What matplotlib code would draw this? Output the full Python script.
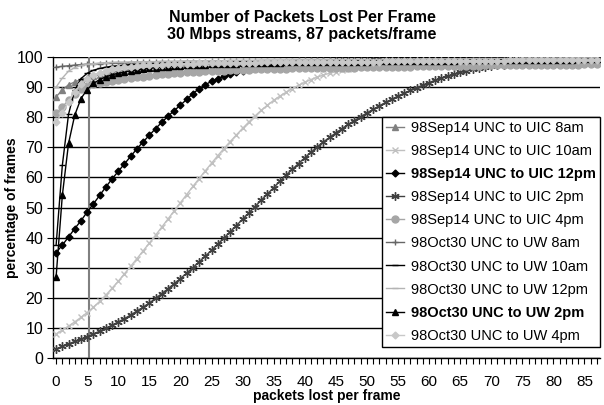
import matplotlib
matplotlib.use("Agg")
import matplotlib.pyplot as plt
from matplotlib.ticker import MultipleLocator, FixedLocator

plt.rcParams['font.family'] = ['Liberation Sans', 'DejaVu Sans']

title = "Number of Packets Lost Per Frame\n30 Mbps streams, 87 packets/frame"
x_label = "packets lost per frame"
y_label = "percentage of frames"
packets = list(range(0, 88))
x_tick_labels = list(range(0, 90, 5))
y_tick_labels = list(range(0, 110, 10))
ref_x = 5.3

sep14_8am = [86.8, 89.0, 90.8, 91.7, 92.5, 93.1, 93.6, 94.1, 94.5, 94.9,
             95.2, 95.5, 95.8, 96.0, 96.2, 96.4, 96.6, 96.8, 96.9, 97.1,
             97.2, 97.3, 97.4, 97.5, 97.6, 97.7, 97.8, 97.8, 97.9, 97.9,
             98.0, 98.0, 98.1, 98.1, 98.2, 98.2, 98.2, 98.3, 98.3, 98.3,
             98.4, 98.4, 98.4, 98.5, 98.5, 98.5, 98.5, 98.6, 98.6, 98.6,
             98.6, 98.7, 98.7, 98.7, 98.7, 98.8, 98.8, 98.8, 98.8, 98.9,
             98.9, 98.9, 98.9, 99.0, 99.0, 99.0, 99.0, 99.0, 99.1, 99.1,
             99.1, 99.1, 99.1, 99.2, 99.2, 99.2, 99.2, 99.2, 99.3, 99.3,
             99.3, 99.3, 99.3, 99.3, 99.4, 99.4, 99.4, 99.4]
sep14_10am = [8.0, 9.3, 10.6, 12.0, 13.5, 15.1, 16.9, 18.8, 20.9, 23.2,
              25.5, 28.0, 30.5, 33.0, 35.6, 38.2, 40.8, 43.5, 46.2, 48.9,
              51.6, 54.3, 57.0, 59.6, 62.2, 64.7, 67.2, 69.6, 71.9, 74.1,
              76.3, 78.4, 80.4, 82.3, 84.0, 85.6, 87.0, 88.3, 89.5, 90.6,
              91.6, 92.5, 93.3, 94.0, 94.6, 95.1, 95.6, 96.0, 96.4, 96.7,
              97.0, 97.2, 97.4, 97.6, 97.8, 97.9, 98.0, 98.1, 98.2, 98.3,
              98.3, 98.4, 98.4, 98.5, 98.5, 98.6, 98.6, 98.7, 98.7, 98.7,
              98.8, 98.8, 98.8, 98.9, 98.9, 98.9, 98.9, 99.0, 99.0, 99.0,
              99.0, 99.1, 99.1, 99.1, 99.1, 99.2, 99.2, 99.2]
sep14_12pm = [35.0, 37.5, 40.2, 43.0, 45.6, 48.5, 51.2, 54.0, 56.8, 59.5,
              62.0, 64.5, 67.0, 69.5, 71.8, 74.0, 76.2, 78.3, 80.3, 82.2,
              84.0, 85.9, 87.8, 89.5, 90.8, 91.9, 92.8, 93.6, 94.3, 94.9,
              95.4, 95.9, 96.3, 96.7, 97.0, 97.3, 97.5, 97.7, 97.9, 98.0,
              98.1, 98.2, 98.3, 98.4, 98.5, 98.6, 98.6, 98.7, 98.7, 98.8,
              98.8, 98.9, 98.9, 98.9, 99.0, 99.0, 99.0, 99.1, 99.1, 99.1,
              99.1, 99.2, 99.2, 99.2, 99.2, 99.3, 99.3, 99.3, 99.3, 99.3,
              99.4, 99.4, 99.4, 99.4, 99.4, 99.4, 99.5, 99.5, 99.5, 99.5,
              99.5, 99.5, 99.5, 99.6, 99.6, 99.6, 99.6, 99.6]
sep14_2pm = [3.0, 3.9, 4.7, 5.5, 6.3, 7.1, 8.0, 8.9, 9.9, 10.9,
             12.0, 13.1, 14.3, 15.6, 16.9, 18.3, 19.8, 21.4, 23.0, 24.7,
             26.4, 28.2, 30.0, 31.9, 33.8, 35.8, 37.8, 39.8, 41.9, 44.0,
             46.1, 48.2, 50.3, 52.4, 54.5, 56.6, 58.7, 60.7, 62.7, 64.6,
             66.5, 68.3, 70.1, 71.8, 73.3, 74.8, 76.2, 77.6, 78.9, 80.2,
             81.4, 82.6, 83.8, 84.9, 86.0, 87.0, 88.0, 88.9, 89.8, 90.7,
             91.5, 92.3, 93.0, 93.7, 94.3, 94.9, 95.4, 95.9, 96.3, 96.7,
             97.0, 97.3, 97.5, 97.7, 97.9, 98.0, 98.1, 98.2, 98.3, 98.4,
             98.5, 98.5, 98.6, 98.7, 98.7, 98.8, 98.8, 98.9]
sep14_4pm = [81.3, 83.4, 85.7, 87.8, 89.4, 90.5, 91.1, 91.4, 91.7, 92.0,
             92.3, 92.6, 92.9, 93.2, 93.5, 93.8, 94.0, 94.2, 94.4, 94.6,
             94.8, 94.9, 95.0, 95.1, 95.2, 95.3, 95.4, 95.5, 95.6, 95.7,
             95.8, 95.8, 95.9, 95.9, 96.0, 96.0, 96.1, 96.1, 96.2, 96.2,
             96.3, 96.3, 96.3, 96.4, 96.4, 96.4, 96.5, 96.5, 96.5, 96.6,
             96.6, 96.6, 96.7, 96.7, 96.7, 96.8, 96.8, 96.8, 96.9, 96.9,
             96.9, 97.0, 97.0, 97.0, 97.0, 97.1, 97.1, 97.1, 97.1, 97.2,
             97.2, 97.2, 97.2, 97.3, 97.3, 97.3, 97.3, 97.4, 97.4, 97.4,
             97.4, 97.5, 97.5, 97.5, 97.5, 97.6, 97.6, 97.6]
oct30_8am = [96.6, 96.9, 97.1, 97.3, 97.5, 97.6, 97.7, 97.8, 97.9, 98.0,
             98.0, 98.1, 98.1, 98.2, 98.2, 98.3, 98.3, 98.3, 98.4, 98.4,
             98.4, 98.5, 98.5, 98.5, 98.5, 98.6, 98.6, 98.6, 98.6, 98.7,
             98.7, 98.7, 98.7, 98.7, 98.8, 98.8, 98.8, 98.8, 98.8, 98.9,
             98.9, 98.9, 98.9, 98.9, 98.9, 99.0, 99.0, 99.0, 99.0, 99.0,
             99.0, 99.1, 99.1, 99.1, 99.1, 99.1, 99.1, 99.2, 99.2, 99.2,
             99.2, 99.2, 99.2, 99.3, 99.3, 99.3, 99.3, 99.3, 99.3, 99.4,
             99.4, 99.4, 99.4, 99.4, 99.4, 99.5, 99.5, 99.5, 99.5, 99.5,
             99.5, 99.5, 99.6, 99.6, 99.6, 99.6, 99.6, 99.6]
oct30_10am = [37.5, 64.0, 81.0, 89.0, 92.8, 94.6, 95.6, 96.2, 96.6, 96.9,
              97.1, 97.3, 97.5, 97.6, 97.7, 97.8, 97.9, 97.9, 98.0, 98.0,
              98.1, 98.1, 98.2, 98.2, 98.2, 98.3, 98.3, 98.3, 98.4, 98.4,
              98.4, 98.4, 98.5, 98.5, 98.5, 98.5, 98.6, 98.6, 98.6, 98.6,
              98.7, 98.7, 98.7, 98.7, 98.7, 98.8, 98.8, 98.8, 98.8, 98.8,
              98.8, 98.9, 98.9, 98.9, 98.9, 98.9, 98.9, 99.0, 99.0, 99.0,
              99.0, 99.0, 99.0, 99.0, 99.1, 99.1, 99.1, 99.1, 99.1, 99.1,
              99.1, 99.2, 99.2, 99.2, 99.2, 99.2, 99.2, 99.2, 99.3, 99.3,
              99.3, 99.3, 99.3, 99.3, 99.3, 99.3, 99.4, 99.4]
oct30_12pm = [90.0, 93.0, 95.3, 96.5, 97.2, 97.6, 97.8, 98.0, 98.1, 98.2,
              98.3, 98.3, 98.4, 98.4, 98.5, 98.5, 98.5, 98.6, 98.6, 98.6,
              98.7, 98.7, 98.7, 98.7, 98.8, 98.8, 98.8, 98.8, 98.9, 98.9,
              98.9, 98.9, 98.9, 99.0, 99.0, 99.0, 99.0, 99.0, 99.0, 99.1,
              99.1, 99.1, 99.1, 99.1, 99.1, 99.2, 99.2, 99.2, 99.2, 99.2,
              99.2, 99.2, 99.3, 99.3, 99.3, 99.3, 99.3, 99.3, 99.3, 99.4,
              99.4, 99.4, 99.4, 99.4, 99.4, 99.4, 99.4, 99.5, 99.5, 99.5,
              99.5, 99.5, 99.5, 99.5, 99.5, 99.6, 99.6, 99.6, 99.6, 99.6,
              99.6, 99.6, 99.6, 99.7, 99.7, 99.7, 99.7, 99.7]
oct30_2pm = [27.0, 54.0, 71.3, 80.7, 86.2, 89.2, 91.2, 92.5, 93.4, 94.1,
             94.6, 95.0, 95.4, 95.7, 96.0, 96.2, 96.4, 96.6, 96.8, 96.9,
             97.1, 97.2, 97.3, 97.4, 97.5, 97.6, 97.7, 97.7, 97.8, 97.8,
             97.9, 97.9, 98.0, 98.0, 98.1, 98.1, 98.1, 98.2, 98.2, 98.2,
             98.3, 98.3, 98.3, 98.4, 98.4, 98.4, 98.4, 98.5, 98.5, 98.5,
             98.5, 98.6, 98.6, 98.6, 98.6, 98.7, 98.7, 98.7, 98.7, 98.7,
             98.8, 98.8, 98.8, 98.8, 98.8, 98.9, 98.9, 98.9, 98.9, 98.9,
             98.9, 99.0, 99.0, 99.0, 99.0, 99.0, 99.0, 99.1, 99.1, 99.1,
             99.1, 99.1, 99.1, 99.1, 99.2, 99.2, 99.2, 99.2]
oct30_4pm = [78.5, 81.5, 85.0, 88.5, 91.0, 92.8, 94.0, 94.8, 95.4, 95.9,
             96.3, 96.6, 96.8, 97.0, 97.2, 97.3, 97.4, 97.5, 97.6, 97.7,
             97.7, 97.8, 97.8, 97.9, 97.9, 97.9, 98.0, 98.0, 98.0, 98.1,
             98.1, 98.1, 98.1, 98.2, 98.2, 98.2, 98.2, 98.3, 98.3, 98.3,
             98.3, 98.3, 98.4, 98.4, 98.4, 98.4, 98.4, 98.5, 98.5, 98.5,
             98.5, 98.5, 98.5, 98.6, 98.6, 98.6, 98.6, 98.6, 98.6, 98.7,
             98.7, 98.7, 98.7, 98.7, 98.7, 98.7, 98.8, 98.8, 98.8, 98.8,
             98.8, 98.8, 98.8, 98.9, 98.9, 98.9, 98.9, 98.9, 98.9, 98.9,
             99.0, 99.0, 99.0, 99.0, 99.0, 99.0, 99.0, 99.1]

series_names = ["98Sep14 UNC to UIC 8am", "98Sep14 UNC to UIC 10am",
                "98Sep14 UNC to UIC 12pm", "98Sep14 UNC to UIC 2pm",
                "98Sep14 UNC to UIC 4pm", "98Oct30 UNC to UW 8am",
                "98Oct30 UNC to UW 10am", "98Oct30 UNC to UW 12pm",
                "98Oct30 UNC to UW 2pm", "98Oct30 UNC to UW 4pm"]
series_values = [sep14_8am, sep14_10am, sep14_12pm, sep14_2pm, sep14_4pm,
                 oct30_8am, oct30_10am, oct30_12pm, oct30_2pm, oct30_4pm]
bold_series = ["98Sep14 UNC to UIC 12pm", "98Oct30 UNC to UW 2pm"]

styles = [
    dict(color='#808080', marker='^', ms=4.5, lw=1.0),
    dict(color='#c0c0c0', marker='x', ms=4.5, lw=1.0, mew=1.0),
    dict(color='#000000', marker='D', ms=3.5, lw=1.0),
    dict(color='#404040', marker=(6, 2, 0), ms=6, lw=1.0, mew=1.0),
    dict(color='#a6a6a6', marker='o', ms=5, lw=1.0),
    dict(color='#666666', marker='+', ms=5, lw=1.0, mew=1.0),
    dict(color='#000000', marker='_', ms=4, lw=1.0, mew=1.0),
    dict(color='#b4b4b4', marker='_', ms=4, lw=1.0, mew=1.0),
    dict(color='#000000', marker='^', ms=4.5, lw=1.0),
    dict(color='#c8c8c8', marker='D', ms=3.5, lw=1.0),
]

fig = plt.figure(figsize=(6.04, 4.05), dpi=100)
ax = fig.add_axes([53 / 604, 1 - 358 / 405, 547 / 604, 301 / 405])

for name, vals, st in zip(series_names, series_values, styles):
    ax.plot(packets, vals, label=name, zorder=3, **st)

ax.set_xlim(-0.5, 87.5)
ax.set_ylim(0, 100)

ax.yaxis.set_major_locator(FixedLocator(y_tick_labels))
ax.grid(axis='y', color='#000000', lw=1.0, zorder=1)
ax.axvline(ref_x, color='#808080', lw=1.5, zorder=2)

ax.xaxis.set_major_locator(FixedLocator(x_tick_labels))
ax.xaxis.set_minor_locator(MultipleLocator(1))
ax.tick_params(axis='x', which='both', direction='out', length=4, width=0.8,
               labelsize=11, pad=8)
ax.tick_params(axis='y', which='major', direction='out', length=4, width=0.8,
               labelsize=11.5, pad=3)

for s in ['top', 'right']:
    ax.spines[s].set_visible(False)
for s in ['left', 'bottom']:
    ax.spines[s].set_linewidth(1.0)

ax.set_xlabel(x_label, fontsize=10, fontweight='bold', labelpad=0)
ax.set_ylabel(y_label, fontsize=10, fontweight='bold')
ax.yaxis.set_label_coords(-0.062, 0.5)

fig.text(0.5, 1 - 26 / 405, title, ha='center', va='center',
         fontsize=11.5, fontweight='bold', linespacing=1.25)

leg = ax.legend(loc='upper left', bbox_to_anchor=(0.601, 0.801),
                borderaxespad=0, fontsize=10.5, frameon=True, fancybox=False,
                edgecolor='#000000', framealpha=1, handlelength=1.2,
                handletextpad=0.5, labelspacing=0.62, borderpad=0.3,
                numpoints=1)
leg.get_frame().set_linewidth(1.0)
leg.set_zorder(5)
for t in leg.get_texts():
    if t.get_text() in bold_series:
        t.set_fontweight('bold')

fig.savefig("out.png", dpi=100)
